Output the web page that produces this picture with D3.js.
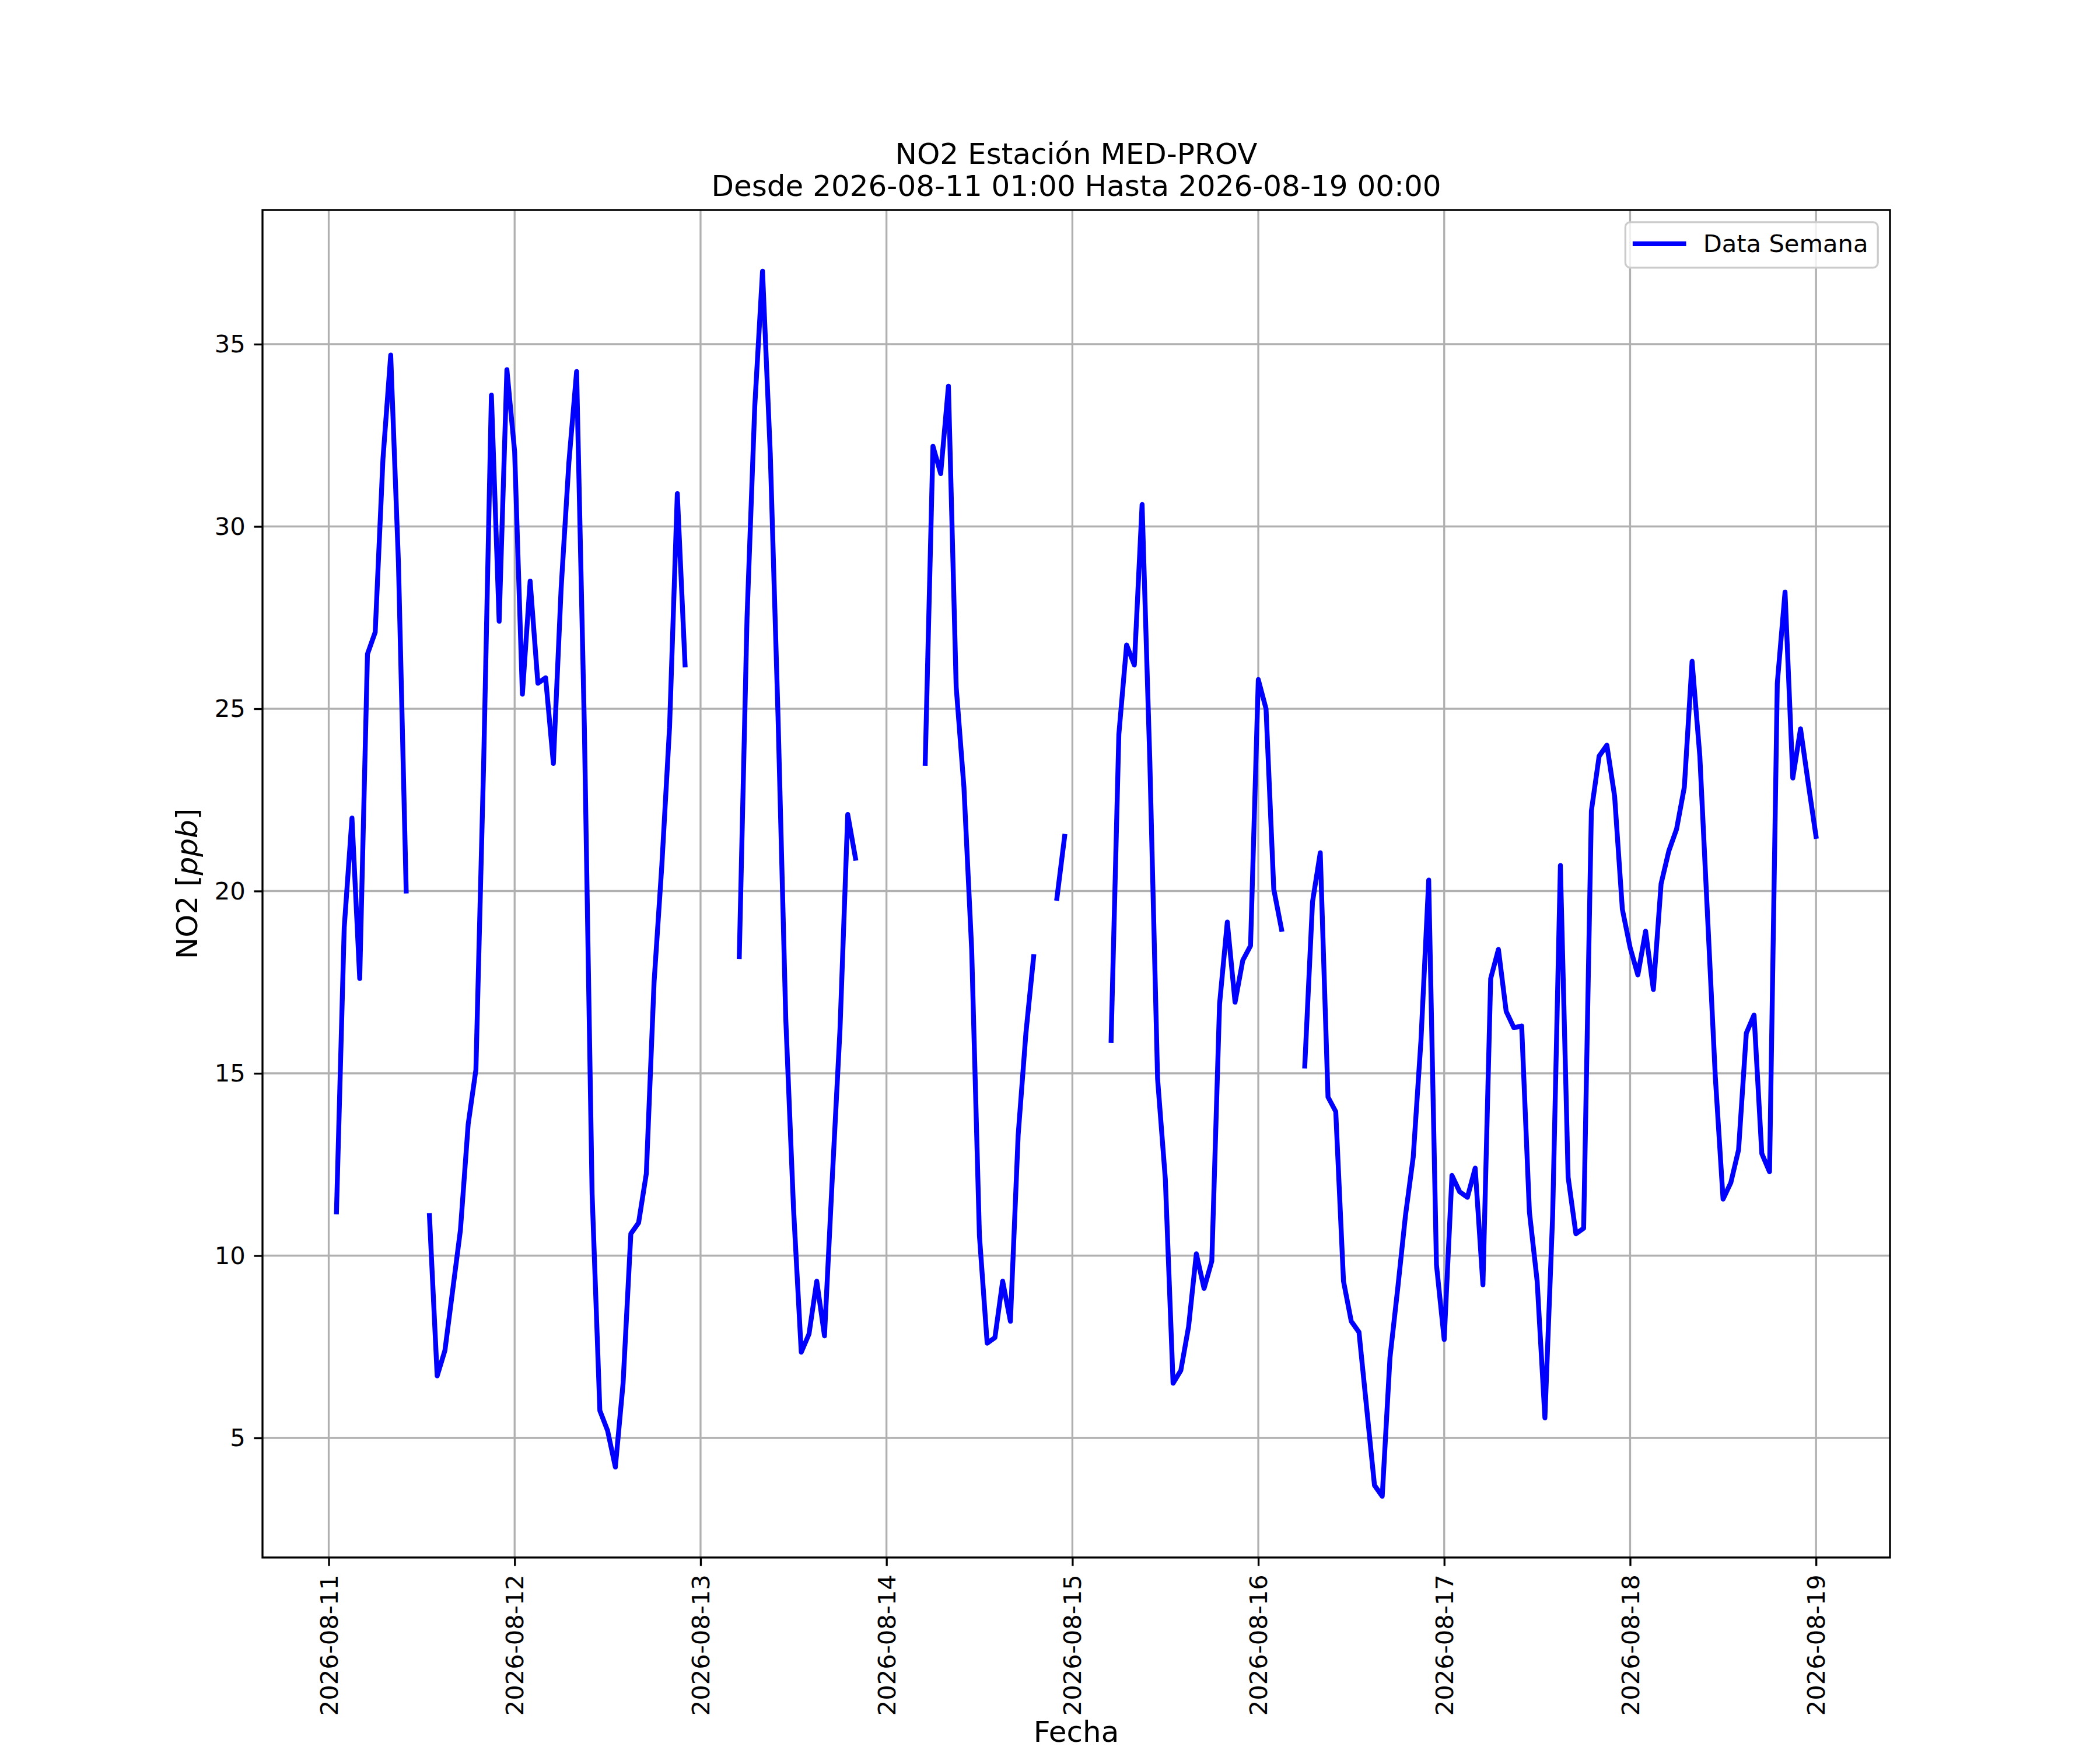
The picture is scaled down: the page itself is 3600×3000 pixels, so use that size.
<!DOCTYPE html>
<html>
<head>
<meta charset="utf-8">
<script src="https://cdn.jsdelivr.net/npm/d3@7"></script>
<style>
  body { margin: 0; background: #fff; }
  svg text { font-family: 'DejaVu Sans', sans-serif; fill: #000; }
</style>
</head>
<body>
<svg id="chart"></svg>
<script>
// Hourly NO2 readings (ppb). Each array runs 01:00 .. 00:00 of the next day, null = no data
const no2Aug11 = [11.2, 19.0, 22.0, 17.6, 26.5, 27.1, 31.85, 34.7, 29.0, 20.0, null, null,
                  11.1, 6.7, 7.4, 9.05, 10.7, 13.6, 15.1, 23.5, 33.6, 27.4, 34.3, 32.05];
const no2Aug12 = [25.4, 28.5, 25.7, 25.85, 23.5, 28.3, 31.75, 34.25, 24.5, 11.7, 5.75, 5.2,
                  4.2, 6.5, 10.6, 10.9, 12.25, 17.5, 20.7, 24.5, 30.9, 26.2, null, null];
const no2Aug13 = [null, null, null, null, 18.2, 27.5, 33.3, 37.0, 32.0, 24.8, 16.5, 11.3,
                  7.35, 7.85, 9.3, 7.8, 12.1, 16.2, 22.1, 20.9, null, null, null, null];
const no2Aug14 = [null, null, null, null, 23.5, 32.2, 31.45, 33.85, 25.6, 22.85, 18.4, 10.55,
                  7.6, 7.75, 9.3, 8.2, 13.3, 16.1, 18.2, null, null, 19.8, 21.5, null];
const no2Aug15 = [null, null, null, null, 15.9, 24.3, 26.75, 26.2, 30.6, 23.55, 14.85, 12.1,
                  6.5, 6.85, 8.05, 10.05, 9.1, 9.85, 16.9, 19.15, 16.95, 18.1, 18.5, 25.8];
const no2Aug16 = [25.0, 20.05, 18.95, null, null, 15.2, 19.7, 21.05, 14.35, 13.95, 9.3, 8.2,
                  7.9, 5.8, 3.7, 3.4, 7.2, 9.1, 11.1, 12.7, 15.9, 20.3, 9.75, 7.7];
const no2Aug17 = [12.2, 11.75, 11.6, 12.4, 9.2, 17.6, 18.4, 16.7, 16.25, 16.3, 11.2, 9.3,
                  5.55, 11.1, 20.7, 12.15, 10.6, 10.75, 22.2, 23.7, 24.0, 22.6, 19.5, 18.45];
const no2Aug18 = [17.7, 18.9, 17.3, 20.2, 21.1, 21.7, 22.85, 26.3, 23.7, 19.3, 14.9, 11.55,
                  12.0, 12.9, 16.1, 16.6, 12.8, 12.3, 25.7, 28.2, 23.1, 24.45, 22.95, 21.5];

const firstHour = '2026-08-11 01:00';
const dayLabels = ['2026-08-11', '2026-08-12', '2026-08-13', '2026-08-14', '2026-08-15',
                   '2026-08-16', '2026-08-17', '2026-08-18', '2026-08-19'];
const yTickValues = [5, 10, 15, 20, 25, 30, 35];
const seriesName = 'Data Semana';
const titleLines = ['NO2 Estación MED-PROV', 'Desde 2026-08-11 01:00 Hasta 2026-08-19 00:00'];

const pt = 300 / 72;   // figure was drawn at 300 dpi

class LineChart {

  constructor(_config, _data) {
    this.config = {
      parentElement: _config.parentElement,
      containerWidth: _config.containerWidth || 3600,
      containerHeight: _config.containerHeight || 3000,
      margin: _config.margin || {top: 360, right: 360, bottom: 330, left: 450},
      lineWidth: 2 * pt
    };
    this.data = _data;
    this.initVis();
  }

  initVis() {
    let vis = this;

    vis.width = vis.config.containerWidth - vis.config.margin.left - vis.config.margin.right;
    vis.height = vis.config.containerHeight - vis.config.margin.top - vis.config.margin.bottom;

    vis.xScale = d3.scaleTime().range([0, vis.width]);
    vis.yScale = d3.scaleLinear().range([vis.height, 0]);

    vis.dayTicks = dayLabels.map(d3.timeParse('%Y-%m-%d'));

    vis.xAxis = d3.axisBottom(vis.xScale)
        .tickValues(vis.dayTicks)
        .tickFormat(d3.timeFormat('%Y-%m-%d'))
        .tickSize(3.5 * pt)
        .tickSizeOuter(0);

    vis.yAxis = d3.axisLeft(vis.yScale)
        .tickValues(yTickValues)
        .tickSize(3.5 * pt)
        .tickPadding(3.5 * pt)
        .tickSizeOuter(0);

    vis.svg = d3.select(vis.config.parentElement)
        .attr('width', vis.config.containerWidth)
        .attr('height', vis.config.containerHeight);

    vis.chart = vis.svg.append('g')
        .attr('transform', `translate(${vis.config.margin.left},${vis.config.margin.top})`);

    vis.gridG = vis.chart.append('g').attr('class', 'grid');
    vis.lineG = vis.chart.append('g').attr('class', 'lines');

    // Frame on all four sides, like matplotlib spines
    vis.chart.append('rect')
        .attr('width', vis.width)
        .attr('height', vis.height)
        .attr('fill', 'none')
        .attr('stroke', '#000')
        .attr('stroke-width', 0.8 * pt);

    vis.xAxisG = vis.chart.append('g')
        .attr('class', 'axis x-axis')
        .attr('transform', `translate(0,${vis.height})`);

    vis.yAxisG = vis.chart.append('g')
        .attr('class', 'axis y-axis');

    // Chart title, two lines
    vis.svg.append('text')
        .attr('class', 'chartTitle')
        .attr('x', vis.config.margin.left + vis.width / 2)
        .attr('y', 281)
        .style('text-anchor', 'middle')
        .style('font-size', `${12 * pt}px`)
        .selectAll('tspan')
        .data(titleLines)
      .join('tspan')
        .attr('x', vis.config.margin.left + vis.width / 2)
        .attr('dy', (d, i) => i === 0 ? 0 : 55)
        .text(d => d);

    // x-axis label
    vis.svg.append('text')
        .attr('class', 'axis-title')
        .attr('x', vis.config.margin.left + vis.width / 2)
        .attr('y', 2986)
        .style('text-anchor', 'middle')
        .style('font-size', `${12 * pt}px`)
        .text('Fecha');

    // y-axis label, "ppb" in italics as in the mathtext original
    vis.yAxisTitle = vis.svg.append('text')
        .attr('class', 'axis-title')
        .attr('transform', `translate(338,${vis.config.margin.top + vis.height / 2}) rotate(-90)`)
        .style('text-anchor', 'middle')
        .style('font-size', `${12 * pt}px`);
    vis.yAxisTitle.append('tspan').text('NO2 [');
    vis.yAxisTitle.append('tspan').style('font-style', 'italic').text('ppb');
    vis.yAxisTitle.append('tspan').text(']');

    vis.updateVis();
  }

  updateVis() {
    let vis = this;

    // matplotlib style 5% margins around the data
    const t0 = vis.data[0].time;
    const t1 = vis.data[vis.data.length - 1].time;
    const padX = (t1 - t0) * 0.05;
    vis.xScale.domain([new Date(+t0 - padX), new Date(+t1 + padX)]);

    const [yMin, yMax] = d3.extent(vis.data.filter(d => d.value !== null), d => d.value);
    const padY = (yMax - yMin) * 0.05;
    vis.yScale.domain([yMin - padY, yMax + padY]);

    vis.renderVis();
  }

  renderVis() {
    let vis = this;

    // Grid lines
    vis.gridG.selectAll('.vgrid')
        .data(vis.dayTicks)
      .join('line')
        .attr('class', 'vgrid')
        .attr('x1', d => vis.xScale(d))
        .attr('x2', d => vis.xScale(d))
        .attr('y1', 0)
        .attr('y2', vis.height);

    vis.gridG.selectAll('.hgrid')
        .data(yTickValues)
      .join('line')
        .attr('class', 'hgrid')
        .attr('x1', 0)
        .attr('x2', vis.width)
        .attr('y1', d => vis.yScale(d))
        .attr('y2', d => vis.yScale(d));

    vis.gridG.selectAll('line')
        .attr('stroke', '#b0b0b0')
        .attr('stroke-width', 0.8 * pt);

    // Data line, gaps where readings are missing
    const line = d3.line()
        .defined(d => d.value !== null)
        .x(d => vis.xScale(d.time))
        .y(d => vis.yScale(d.value));

    vis.lineG.selectAll('.no2-line')
        .data([vis.data])
      .join('path')
        .attr('class', 'no2-line')
        .attr('d', line)
        .attr('fill', 'none')
        .attr('stroke', '#0000ff')
        .attr('stroke-width', vis.config.lineWidth)
        .attr('stroke-linejoin', 'round')
        .attr('stroke-linecap', 'square');

    // Axes
    vis.xAxisG.call(vis.xAxis);
    vis.yAxisG.call(vis.yAxis);

    vis.chart.selectAll('.axis .domain').remove();
    vis.chart.selectAll('.axis .tick line')
        .attr('stroke', '#000')
        .attr('stroke-width', 0.8 * pt);
    vis.chart.selectAll('.axis .tick text')
        .style('font-size', `${10 * pt}px`)
        .attr('fill', '#000');

    vis.yAxisG.selectAll('.tick text').attr('dy', '0.33em');

    // Vertical date labels under the ticks
    vis.xAxisG.selectAll('.tick text')
        .attr('transform', 'rotate(-90)')
        .attr('x', -7 * pt)
        .attr('y', 0)
        .attr('dy', '0.35em')
        .style('text-anchor', 'end');

    // Legend, upper right
    const fs = 10 * pt;
    const legendRight = vis.width - 0.5 * fs;
    const legendTop = 0.5 * fs;
    const legendG = vis.chart.append('g').attr('class', 'legend');

    const legendBox = legendG.append('rect')
        .attr('fill', '#fff')
        .attr('fill-opacity', 0.8)
        .attr('stroke', '#cccccc')
        .attr('stroke-width', 0.8 * pt)
        .attr('rx', 0.2 * fs)
        .attr('ry', 0.2 * fs);

    const legendText = legendG.append('text')
        .style('font-size', `${fs}px`)
        .attr('dy', '0.35em')
        .text(seriesName);

    const textW = legendText.node().getComputedTextLength();
    const boxW = 0.4 * fs + 2 * fs + 0.8 * fs + textW + 0.4 * fs;
    const boxH = 78;
    const boxX = legendRight - boxW;
    const midY = legendTop + boxH / 2 - 2;

    legendBox
        .attr('x', boxX)
        .attr('y', legendTop)
        .attr('width', boxW)
        .attr('height', boxH);

    legendG.append('line')
        .attr('x1', boxX + 0.4 * fs)
        .attr('x2', boxX + 2.4 * fs)
        .attr('y1', midY)
        .attr('y2', midY)
        .attr('stroke', '#0000ff')
        .attr('stroke-width', vis.config.lineWidth)
        .attr('stroke-linecap', 'square');

    legendText
        .attr('x', boxX + 3.2 * fs)
        .attr('y', midY);
  }
}

const start = d3.timeParse('%Y-%m-%d %H:%M')(firstHour);
const no2Values = [].concat(no2Aug11, no2Aug12, no2Aug13, no2Aug14,
                            no2Aug15, no2Aug16, no2Aug17, no2Aug18);
const data = no2Values.map((v, i) => ({time: d3.timeHour.offset(start, i), value: v}));

const chart = new LineChart({parentElement: '#chart'}, data);
</script>
</body>
</html>
